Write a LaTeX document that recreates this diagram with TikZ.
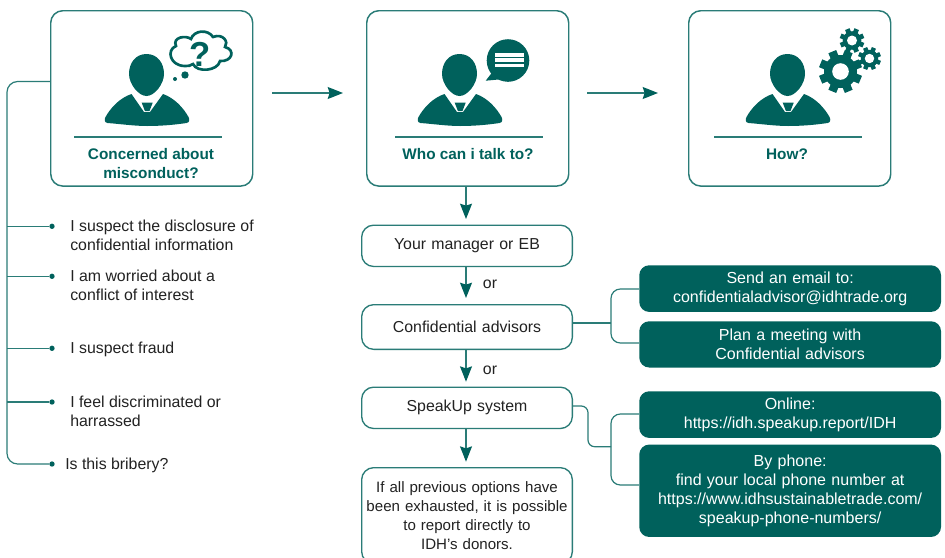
\documentclass[tikz,border=0pt]{standalone}
\usepackage{fontspec}
\setmainfont{Liberation Sans}
\usetikzlibrary{arrows.meta}
\definecolor{idh}{HTML}{00615C}
\definecolor{idhl}{HTML}{2A7C77}
\definecolor{ink}{HTML}{222222}
\tikzset{
  x=0.75pt,y=-0.75pt,
  bigbox/.style={draw=idhl,line width=1.1pt,rounded corners=9pt,minimum width=151.5pt,minimum height=131.5pt,anchor=north west,inner sep=0pt},
  optbox/.style={draw=idhl,line width=1pt,rounded corners=9pt,anchor=north west,inner sep=0pt,text width=158pt,align=center,font=\fontsize{11.9}{14.2}\selectfont,text=ink},
  darkbox/.style={fill=idh,rounded corners=7.5pt,anchor=north west,inner sep=0pt,minimum width=226.3pt,text width=226.3pt,align=center,text=white,font=\fontsize{12}{14.2}\selectfont},
  head/.style={font=\bfseries\fontsize{11.5}{14.3}\selectfont,text=idh,align=center,anchor=north},
  item/.style={font=\fontsize{11.9}{14.25}\selectfont,text=ink,align=left,anchor=north west,inner sep=0pt},
  orlab/.style={font=\fontsize{11.9}{14}\selectfont,text=ink,inner sep=0pt},
  link/.style={draw=idhl,line width=0.9pt,rounded corners=7pt},
  stem/.style={draw=idhl,line width=0.9pt},
  arrowl/.style={draw=idhl,line width=0.9pt,-{Stealth[length=11.5pt,width=9pt,inset=1.5pt,color=idh]}},
  bullet/.style={circle,fill=idh,inner sep=0pt,minimum size=4pt},
  rulel/.style={draw=idhl,line width=0.9pt}
}
\newcommand{\person}[2]{% x,y = head centre
  \begin{scope}[shift={(#1,#2)}]
    \fill[idh] (0.5,51) .. controls (-12,51) and (-26,49) .. (-39,48) .. controls (-42,47.5) and (-42.5,45) .. (-41,42) .. controls (-36,33) and (-27,23) .. (-15,19) -- (-2.5,37) -- (3.5,37) -- (16.5,19) .. controls (28,23) and (37,33) .. (42,42) .. controls (43.5,45) and (43,47.5) .. (40,48) .. controls (27,50) and (13,51) .. (0.5,51) -- cycle;
    \fill[idh] (0,-21) .. controls (11,-21) and (17.5,-12) .. (17.5,-1) .. controls (17.5,9) and (8,21) .. (0,21) .. controls (-8,21) and (-17.5,9) .. (-17.5,-1) .. controls (-17.5,-12) and (-11,-21) .. (0,-21) -- cycle;
    \fill[idh] (-4.8,27.7) -- (6.2,27.7) -- (3,36) -- (-1.6,36) -- cycle;
  \end{scope}}
\newcommand{\gear}[6]{% x,y,outer,inner,hole,half tooth
  \begin{scope}[shift={(#1,#2)}]
    \fill[idh] (0,0) circle (#4);
    \foreach \a in {0,45,...,315} {\fill[idh,rotate=\a+22.5] (-#6,0) rectangle (#6,#3);}
    \fill[white] (0,0) circle (#5);
  \end{scope}}
\begin{document}
\begin{tikzpicture}
\useasboundingbox (0,0) rectangle (945,557);
\fill[white] (0,0) rectangle (945,557);
% big boxes
\node[bigbox] (b1) at (50,10) {};
\node[bigbox] (b2) at (366,10) {};
\node[bigbox] (b3) at (688,10) {};
\person{146.5}{75}
\person{459.5}{75}
\person{787.5}{75}
\draw[rulel] (74,137) -- (222,137);
\draw[rulel] (395,137) -- (543,137);
\draw[rulel] (714,137) -- (862,137);
\node[head] (t1) at (151,144) {Concerned about\\misconduct?};
\node[head] (t2) at (468,144) {Who can i talk to?};
\node[head] (t3) at (787,144) {How?};
% thought cloud
\draw[idh,line width=2pt,fill=white] (185,66) .. controls (170,66) and (166,50) .. (176,46) .. controls (172,37) and (186,35) .. (191,39) .. controls (194,30) and (208,29) .. (213,37) .. controls (223,33) and (229,42) .. (225,47) .. controls (236,50) and (232,62) .. (220,61) .. controls (218,71) and (197,73) .. (193,64) .. controls (191,66) and (188,66) .. (185,66) -- cycle;
\node[font=\bfseries\fontsize{26}{26}\selectfont,text=idh,inner sep=0pt] (q) at (200.5,54) {?};
\fill[idh] (185,75) circle (3.7);
\fill[idh] (175,79) circle (2);
% speech bubble
\fill[idh] (508,60.5) circle (21.3);
\fill[idh] (494,70) -- (485.7,80.7) -- (504,79) -- cycle;
\fill[white] (495,52.5) rectangle (524,56.5);
\fill[white] (495,58) rectangle (524,62);
\fill[white] (495,63.5) rectangle (524,67);
% gears
\gear{840.5}{71.5}{21.5}{16.5}{8.3}{4.2}
\gear{852}{40.5}{12.3}{9.3}{5}{2.4}
\gear{869.5}{58.5}{11.5}{8.7}{4.7}{2.2}
% flow arrows
\coordinate (a1s) at (272,93); \coordinate (a1e) at (343,93);
\coordinate (a2s) at (587,93); \coordinate (a2e) at (658,93);
\draw[arrowl] (a1s) -- (a1e);
\draw[arrowl] (a2s) -- (a2e);
% options
\node[optbox,minimum height=31pt] (o1) at (361,224.5) {\raisebox{-1pt}{Your manager or EB}};
\node[optbox,minimum height=33.5pt] (o2) at (361,304) {\raisebox{1pt}{Confidential advisors}};
\node[optbox,minimum height=31pt] (o3) at (361,386.5) {\raisebox{-1pt}{SpeakUp system}};
\node[optbox,minimum height=72pt,font=\fontsize{11.3}{14.1}\selectfont] (o4) at (361,467) {If all previous options have\\been exhausted, it is possible\\to report directly to\\IDH’s donors.};
\coordinate (e1) at (466,219);
\coordinate (e2) at (466,298);
\coordinate (e3) at (466,381.7);
\coordinate (e4) at (466,461.7);
\draw[arrowl] (b2.south -| e1) -- (e1);
\draw[arrowl] (o1.south -| e2) -- (e2);
\draw[arrowl] (o2.south -| e3) -- (e3);
\draw[arrowl] (o3.south -| e4) -- (e4);
\node[orlab] (or1) at (490,284.5) {or};
\node[orlab] (or2) at (490,370.5) {or};
% dark boxes
\node[darkbox,minimum height=35pt] (d1) at (639,265) {Send an email to:\\confidentialadvisor@idhtrade.org};
\node[darkbox,minimum height=34.7pt] (d2) at (639,321) {Plan a meeting with\\Confidential advisors};
\node[darkbox,minimum height=35pt] (d3) at (639,391) {Online:\\https://idh.speakup.report/IDH};
\node[darkbox,minimum height=69.3pt] (d4) at (639,444.3) {By phone:\\find your local phone number at\\https://www.idhsustainabletrade.com/\\speakup-phone-numbers/};
% right connectors
\coordinate (j1) at (611,323);
\coordinate (j2) at (611,446.7);
\draw[link] (o2.east |- j1) -- (j1);
\draw[link] (d1.west |- 0,289) -- (611,289) -- (611,343) -- (d2.west |- 0,343);
\draw[link,rounded corners=5pt] (o3.east |- 0,406) -- (588,406) -- (588,446.7) -- (j2);
\draw[link] (d3.west |- 0,414) -- (611,414) -- (611,485) -- (d4.west |- 0,485);
% left tree
\node[bullet] (p1) at (52,226.3) {};
\node[bullet] (p2) at (52,276.3) {};
\node[bullet] (p3) at (52,348.3) {};
\node[bullet] (p4) at (52,402) {};
\node[bullet] (p5) at (52,464) {};
\draw[stem,rounded corners=8pt] (b1.west |- 0,81.5) -- (7,81.5) -- (7,464) -- (p5);
\draw[stem] (7,226.3) -- (p1);
\draw[stem] (7,276.3) -- (p2);
\draw[stem] (7,348.3) -- (p3);
\draw[stem] (7,402) -- (p4);
\node[item] (i1) at (70,219.5) {I suspect the disclosure of\\confidential information};
\node[item] (i2) at (70,269.5) {I am worried about a\\conflict of interest};
\node[item] (i3) at (70,341.5) {I suspect fraud};
\node[item] (i4) at (70,395.5) {I feel discriminated or\\harrassed};
\node[item] (i5) at (65,457.5) {Is this bribery?};
\end{tikzpicture}
\end{document}
